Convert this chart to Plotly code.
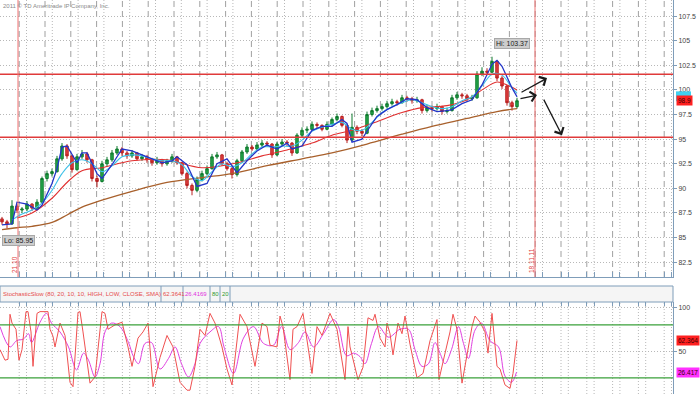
import plotly.graph_objects as go

# ---------------- data ----------------
bars = list(range(104))
opens = [86.9,86.6,86.4,88.2,87.8,87.9,88.4,88.0,88.6,91.0,
         91.5,91.7,93.0,94.3,93.3,91.9,93.2,93.5,92.9,91.0,
         90.7,92.5,92.9,93.6,94.0,93.6,93.3,93.6,93.0,93.2,
         92.9,92.6,92.9,92.5,92.8,93.2,92.6,91.5,90.3,89.8,
         90.9,91.5,92.0,93.2,93.4,92.5,92.0,91.4,92.8,93.7,
         94.2,94.0,94.4,94.6,94.5,93.4,94.5,94.7,94.6,93.6,
         95.4,95.9,96.0,96.5,96.4,96.0,96.5,97.0,97.3,96.4,
         94.9,96.2,95.8,95.6,97.5,97.9,98.1,98.3,98.6,98.8,
         98.7,99.2,99.1,98.9,99.0,97.9,98.2,98.1,98.3,97.8,
         97.9,99.2,99.5,99.4,99.1,99.2,101.6,101.9,101.8,102.9,
         101.2,100.4,98.7,98.3]
highs = [87.1,86.8,88.8,88.4,88.1,88.7,88.5,88.9,91.2,91.8,
         92.0,93.3,94.6,94.5,93.4,93.5,93.9,93.7,93.0,91.3,
         92.8,93.2,93.9,94.3,94.2,93.8,93.9,93.7,93.5,93.4,
         93.1,93.2,93.0,93.0,93.5,93.3,92.7,91.7,90.5,91.2,
         91.8,92.3,93.5,93.7,93.5,92.7,92.2,93.0,93.9,94.5,
         94.4,94.7,94.9,94.8,94.6,94.7,95.0,94.9,94.7,95.6,
         96.2,96.3,96.8,96.7,96.5,96.8,97.2,97.6,97.4,96.5,
         97.6,96.4,96.0,97.8,98.2,98.4,98.6,98.9,99.1,99.0,
         99.5,99.4,99.3,99.3,99.1,98.5,98.4,98.6,98.4,98.2,
         99.5,99.8,99.7,99.6,99.5,101.9,102.3,102.2,103.37,103.0,
         101.4,100.5,98.9,99.2]
lows = [86.3,85.95,86.3,87.5,87.5,87.7,87.7,87.9,88.5,90.7,
        91.2,91.6,92.8,93.0,91.6,91.8,93.0,92.6,90.7,90.1,
        90.6,92.2,92.7,93.4,93.3,93.0,93.1,92.8,92.8,92.6,
        92.3,92.4,92.2,92.3,92.6,92.4,91.3,90.0,89.3,89.6,
        90.7,91.3,91.9,93.0,92.3,91.8,91.0,91.2,92.6,93.5,
        93.8,93.9,94.2,94.2,93.1,93.3,94.3,94.3,93.3,93.5,
        95.2,95.6,95.9,96.1,95.8,95.9,96.3,96.8,96.2,94.6,
        94.8,95.5,95.3,95.5,97.3,97.7,97.9,98.1,98.4,98.4,
        98.6,98.8,98.6,98.7,97.6,97.7,97.8,97.9,97.5,97.6,
        97.8,99.0,99.1,98.8,98.9,99.1,101.4,101.5,101.7,100.9,
        100.1,98.4,97.9,98.1]
closes = [86.6,86.4,88.2,87.8,87.9,88.4,88.0,88.6,91.0,91.5,
          91.7,93.0,94.3,93.3,91.9,93.2,93.5,92.9,91.0,90.7,
          92.5,92.9,93.6,94.0,93.6,93.3,93.6,93.0,93.2,92.9,
          92.6,92.9,92.5,92.8,93.2,92.6,91.5,90.3,89.8,90.9,
          91.5,92.0,93.2,93.4,92.5,92.0,91.4,92.8,93.7,94.2,
          94.0,94.4,94.6,94.5,93.4,94.5,94.7,94.6,93.6,95.4,
          95.9,96.0,96.5,96.4,96.0,96.5,97.0,97.3,96.4,94.9,
          96.2,95.8,95.6,97.5,97.9,98.1,98.3,98.6,98.8,98.7,
          99.2,99.1,98.9,99.0,97.9,98.2,98.1,98.3,97.8,97.9,
          99.2,99.5,99.4,99.1,99.2,101.6,101.9,101.8,102.9,101.2,
          100.4,98.7,98.3,98.9]

brown_x = [0,3,6,10,13,16,20,26,33,40,46,53,60,66,73,80,86,93,99,103]
brown_v = [85.8,86.0,86.15,86.55,87.3,88.1,88.8,89.7,90.6,91.1,91.5,92.3,93.0,93.6,94.5,95.5,96.3,97.1,97.8,98.1]

red_x = [3,6,10,13,16,20,26,33,40,47,52,57,62,66,70,74,80,84,89,93,96,99,101,103]
red_v = [87.0,87.5,89.0,90.6,91.8,92.1,92.8,92.9,92.1,92.6,93.3,93.9,94.6,95.4,95.9,96.6,97.7,98.2,98.4,99.0,100.0,100.8,100.5,100.0]

cyan_x = [2,4,6,8,10,12,14,16,18,20,22,24,26,28,30,32,34,36,38,40,42,44,46,48,50,
          52,54,56,58,60,62,64,66,68,70,72,74,76,78,80,82,84,86,88,90,92,94,96,98,100,102,103]
cyan_v = [86.8,87.4,87.8,88.5,89.8,91.5,92.6,92.9,92.5,91.7,92.3,93.2,93.4,93.3,93.0,92.8,92.8,92.4,91.2,90.8,
          91.7,92.5,92.2,92.6,93.5,94.2,94.2,94.3,94.3,94.9,95.8,96.2,96.5,96.7,96.0,95.9,96.7,97.7,98.3,98.7,
          99.0,98.7,98.3,98.1,98.3,98.9,99.3,100.4,101.6,101.5,100.2,99.7]

blue_x = [0,2,3,5,7,8,10,11,12,13,15,16,17,19,20,22,24,26,28,30,32,34,35,37,39,41,43,45,47,49,
          51,53,55,57,58,60,62,64,66,68,69,70,72,73,75,77,79,81,83,85,87,89,90,92,94,96,98,99,100,101,102,103]
blue_v = [86.3,86.4,88.6,88.4,87.8,88.3,90.5,92.0,94.2,94.3,92.6,93.6,93.6,91.5,91.0,92.4,94.0,93.8,93.4,93.0,
          92.6,92.8,93.2,92.4,90.2,90.5,92.5,93.0,91.6,92.8,93.8,94.4,94.0,94.6,94.0,94.3,95.9,96.3,96.3,97.0,
          96.6,94.7,95.0,95.8,97.3,98.0,98.5,99.1,99.0,98.2,97.8,97.9,98.0,98.6,99.0,100.5,102.6,103.0,102.4,101.3,
          100.2,99.3]

k_x = [-0.4,0.6,1.2,1.6,2.0,2.8,3.4,4.0,4.8,5.2,5.8,6.2,7.0,7.6,9.2,9.6,10.2,10.6,11.6,12.6,
       13.6,14.2,15.2,15.6,16.2,17.6,18.6,20.0,20.6,21.2,22.6,24.0,25.2,26.0,27.2,28.2,29.2,30.2,31.6,33.0,
       34.2,35.6,37.0,37.6,38.6,39.6,40.6,41.6,42.6,44.0,45.0,46.0,47.6,49.0,50.6,52.0,53.0,53.6,55.0,55.6,
       56.2,57.6,58.2,59.0,60.2,61.2,62.0,63.0,64.0,65.6,67.0,68.6,69.2,69.6,71.2,72.2,73.2,74.2,74.6,75.6,
       76.6,77.0,77.6,78.2,79.2,80.0,80.6,81.6,83.0,84.2,85.6,87.0,87.4,88.2,89.6,90.2,91.0,92.0,93.0,94.0,
       94.6,95.6,96.6,97.2,98.0,99.0,99.6,100.6,101.6,102.2,103.0]
k_v = [52,40,41,92,82,75,40,52,95,95,72,33,93,95,95,75,67,55,82,68,
       15,10,94,95,72,14,21,95,93,75,80,83,55,33,65,72,82,10,43,68,
       55,15,6,6,33,75,68,93,82,55,30,12,92,78,33,82,78,57,55,90,
       78,18,75,78,93,52,25,78,68,93,75,18,78,55,18,32,88,85,92,65,
       55,82,70,46,82,70,90,58,20,25,62,86,18,38,72,92,75,14,44,78,
       90,83,72,48,93,33,30,12,8,25,62.36]

d_x = [-0.4,1.6,2.9,4.3,5.3,5.9,7.6,8.9,9.9,11.6,13.3,14.9,16.3,17.3,18.6,19.6,20.6,21.9,23.6,25.3,
       26.3,27.3,28.6,29.9,31.6,33.3,34.6,35.9,37.3,38.6,39.6,41.6,43.3,44.4,46.3,48.3,50.3,52.3,54.3,55.9,
       57.6,59.3,60.6,62.3,64.3,66.3,67.3,68.9,70.3,71.6,72.6,73.9,75.3,77.3,79.6,81.3,82.6,84.0,85.3,86.6,
       87.6,88.6,89.9,91.3,92.3,93.3,94.6,95.9,97.6,99.3,100.6,101.9,102.9]
d_v = [78,55,62,64,70,60,83,93,82,72,55,29,48,40,21,36,72,82,78,60,
       44,36,59,60,30,42,55,36,21,36,59,72,78,55,25,65,78,59,57,78,
       52,60,72,55,70,86,78,45,48,44,36,59,78,66,75,75,52,33,36,60,
       48,36,52,78,59,42,74,82,62,55,22,15,26.42]

price_ticks = [82.5, 85, 87.5, 90, 92.5, 95, 97.5, 100, 102.5, 105, 107.5]
stoch_ticks = [50, 100]
levels = [101.6, 95.2]            # horizontal red lines
date_marks = [("21.10", 3.2), ("18.11.11", 106.6)]
arrow_tails = [(103.6, 99.68), (103.4, 99.07), (108.2, 99.17)]
arrow_heads = [(109.0, 101.2), (107.0, 99.47), (112.0, 95.4)]
last_price = 98.9
last_fast = 99.35
last_k, last_d = 62.364, 26.417
header = [("StochasticSlow (80, 20, 10, 10, HIGH, LOW, CLOSE, SMA)", "#e64b4b"),
          ("62.3641", "#e64b4b"), ("26.4169", "#e030e0"), ("80", "#2e9a2e"), ("20", "#2e9a2e")]

# ---------------- layout geometry ----------------
W, H = 700, 394
PW = 673
def pxx(px): return px / PW
def pyy(py): return (H - py) / H
UP = [pyy(277), 1.0]
LO = [0.0, pyy(302)]
XR = [-0.4, 134.2]
PR = [81.0, 109.13]
SR = [1.7, 105.9]
FONT = "Liberation Sans, Arial, sans-serif"
AXC = "#7f9db9"

fig = go.Figure()
fig.add_trace(go.Candlestick(
    x=bars, open=opens, high=highs, low=lows, close=closes,
    increasing=dict(line=dict(color="#0f7a2e", width=1), fillcolor="#24a84a"),
    decreasing=dict(line=dict(color="#b82020", width=1), fillcolor="#e04040"),
    whiskerwidth=0, xaxis="x", yaxis="y", showlegend=False))
fig.add_trace(go.Scatter(x=brown_x, y=brown_v, mode="lines", line=dict(color="#a8602c", width=1.3, shape="spline"),
                         xaxis="x", yaxis="y", showlegend=False))
fig.add_trace(go.Scatter(x=red_x, y=red_v, mode="lines", line=dict(color="#e03030", width=1.1, shape="spline"),
                         xaxis="x", yaxis="y", showlegend=False))
fig.add_trace(go.Scatter(x=cyan_x, y=cyan_v, mode="lines", line=dict(color="#3cc0e8", width=1.1, shape="spline"),
                         xaxis="x", yaxis="y", showlegend=False))
fig.add_trace(go.Scatter(x=blue_x, y=blue_v, mode="lines", line=dict(color="#2234c8", width=1.3),
                         xaxis="x", yaxis="y", showlegend=False))

fig.add_trace(go.Scatter(x=d_x, y=d_v, mode="lines", line=dict(color="#e040e0", width=1, shape="spline"),
                         xaxis="x2", yaxis="y2", showlegend=False))
fig.add_trace(go.Scatter(x=k_x, y=k_v, mode="lines", line=dict(color="#f05050", width=1),
                         xaxis="x2", yaxis="y2", showlegend=False))

shapes = []
step, dash0, dot0 = 5.16, 3.44, 4.9
dash_pos = [dash0 + k * step for k in range(26)]
dot_pos = [dot0 + k * step for k in range(26)]
for v in dash_pos:
    shapes.append(dict(type="line", xref="x", yref="paper", x0=v, x1=v, y0=UP[0], y1=1,
                       line=dict(color="#a0a0a0", width=1, dash="6px,4px"), layer="below"))
for v in dot_pos:
    shapes.append(dict(type="line", xref="x", yref="paper", x0=v, x1=v, y0=UP[0], y1=1,
                       line=dict(color="#b8b8b8", width=1, dash="1px,2px"), layer="below"))
for v in dash_pos + dot_pos:
    shapes.append(dict(type="line", xref="x2", yref="paper", x0=v, x1=v, y0=0, y1=LO[1],
                       line=dict(color="#b8b8b8", width=1, dash="1px,2px"), layer="below"))
for lv in levels:
    shapes.append(dict(type="line", xref="paper", yref="y", x0=0, x1=1, y0=lv, y1=lv,
                       line=dict(color="#e03a3a", width=1.5)))
for _, xv in date_marks:
    shapes.append(dict(type="line", xref="x", yref="paper", x0=xv, x1=xv, y0=UP[0], y1=1,
                       line=dict(color="#f07070", width=1)))
for lv in (80, 20):
    shapes.append(dict(type="line", xref="paper", yref="y2", x0=0, x1=1, y0=lv, y1=lv,
                       line=dict(color="#3aa03a", width=1.3)))
# header bar of the lower study
shapes.append(dict(type="rect", xref="paper", yref="paper", x0=0, x1=1, y0=pyy(302), y1=pyy(286),
                   fillcolor="#f5f5f5", line=dict(color=AXC, width=1)))
for px in (161, 183, 210, 220, 230):
    shapes.append(dict(type="line", xref="paper", yref="paper", x0=pxx(px), x1=pxx(px),
                       y0=pyy(302), y1=pyy(286), line=dict(color=AXC, width=1)))
# cyan value marker peeking out behind the red last-price bubble
shapes.append(dict(type="rect", xref="paper", yref="y", x0=pxx(676), x1=pxx(691),
                   y0=last_fast - 0.5, y1=last_fast + 0.5, fillcolor="#40d0f0", line=dict(width=0)))

ann = []
ann.append(dict(text="2011 © TD Ameritrade IP Company, Inc.", xref="paper", yref="paper",
                x=pxx(1), y=pyy(6), xanchor="left", yanchor="middle", showarrow=False,
                font=dict(family=FONT, size=6.0, color="#8a8a8a")))
starts = [2, 162, 184, 211, 221]
for (t, c), sx in zip(header, starts):
    ann.append(dict(text=t, xref="paper", yref="paper", x=pxx(sx), y=pyy(294), xanchor="left",
                    yanchor="middle", showarrow=False, borderpad=0,
                    font=dict(family=FONT, size=6.0, color=c)))
for t, xv in date_marks:
    ann.append(dict(text=t, xref="x", yref="paper", x=xv, y=pyy(275), xanchor="right", yanchor="bottom",
                    textangle=-90, showarrow=False, xshift=2, font=dict(family=FONT, size=6.5, color="#e04040")))
# Hi / Lo bubbles
hi_i = highs.index(max(highs))
lo_i = lows.index(min(lows))
ann.append(dict(text=f"Hi: {max(highs):.2f}", xref="x", yref="y", x=hi_i, y=max(highs), xshift=20, yshift=13,
                showarrow=False, bgcolor="#cdcdcd", bordercolor="#a8a8a8", borderwidth=1, borderpad=1,
                font=dict(family=FONT, size=7, color="#222")))
ann.append(dict(text=f"Lo: {min(lows):.2f}", xref="x", yref="y", x=lo_i, y=min(lows), xshift=11, yshift=-12,
                showarrow=False, bgcolor="#cdcdcd", bordercolor="#a8a8a8", borderwidth=1, borderpad=1,
                font=dict(family=FONT, size=7, color="#222")))
for (tx, ty), (hx, hy) in zip(arrow_tails, arrow_heads):
    ann.append(dict(text="", x=hx, y=hy, ax=tx, ay=ty, xref="x", yref="y", axref="x", ayref="y",
                    showarrow=True, arrowhead=4, arrowsize=1.5, arrowwidth=1.3, arrowcolor="#1a1a1a", standoff=0))
# right-edge value bubbles
def bubble(text, yv, yref, bg):
    return dict(text=text, xref="paper", yref=yref, x=pxx(676), y=yv, xanchor="left", yanchor="middle",
                showarrow=False, bgcolor=bg, borderpad=1,
                font=dict(family=FONT, size=6.5, color="#3a0000"))
ann.append(bubble(f"{last_price:.1f}", last_price, "y", "#ff2020"))
ann.append(bubble(f"{last_k:.3f}", last_k, "y2", "#ff2020"))
ann.append(bubble(f"{last_d:.3f}", last_d, "y2", "#ff30ff"))
ann.append(dict(text="0", xref="paper", yref="y2", x=pxx(676), y=0, xanchor="left", yanchor="middle",
                showarrow=False, font=dict(family=FONT, size=7, color="#444")))

tickfont = dict(family=FONT, size=7, color="#444")
fig.update_layout(
    width=W, height=H, margin=dict(l=0, r=W - PW, t=0, b=0, autoexpand=False),
    paper_bgcolor="white", plot_bgcolor="white", showlegend=False,
    xaxis=dict(domain=[0, 1], range=XR, anchor="y", showgrid=False, zeroline=False,
               showline=True, linecolor=AXC, linewidth=1, ticks="inside", ticklen=5, tickcolor=AXC,
               tickvals=dash_pos + dot_pos, showticklabels=False, rangeslider=dict(visible=False)),
    yaxis=dict(domain=UP, range=PR, side="right", anchor="x", showgrid=True, gridcolor="#b8b8b8",
               griddash="1px,2px", zeroline=False, showline=True, linecolor=AXC, ticks="outside",
               ticklen=3, tickcolor=AXC, tickvals=price_ticks, ticktext=[f"{v:g}" for v in price_ticks],
               tickfont=tickfont),
    xaxis2=dict(domain=[0, 1], range=XR, anchor="y2", side="top", matches="x", showgrid=False,
                zeroline=False, showline=False, ticks="inside", ticklen=4, tickcolor=AXC,
                tickvals=dash_pos + dot_pos, showticklabels=False),
    yaxis2=dict(domain=LO, range=SR, side="right", anchor="x2", showgrid=True, gridcolor="#b8b8b8",
                griddash="1px,2px", zeroline=False, showline=True, linecolor=AXC, ticks="outside",
                ticklen=3, tickcolor=AXC, tickvals=stoch_ticks, ticktext=[str(v) for v in stoch_ticks],
                tickfont=tickfont),
    shapes=shapes, annotations=ann,
)
fig.write_html("out.html", config={"displayModeBar": False},
               post_script="document.body.style.margin='0';document.body.style.overflow='hidden';")
